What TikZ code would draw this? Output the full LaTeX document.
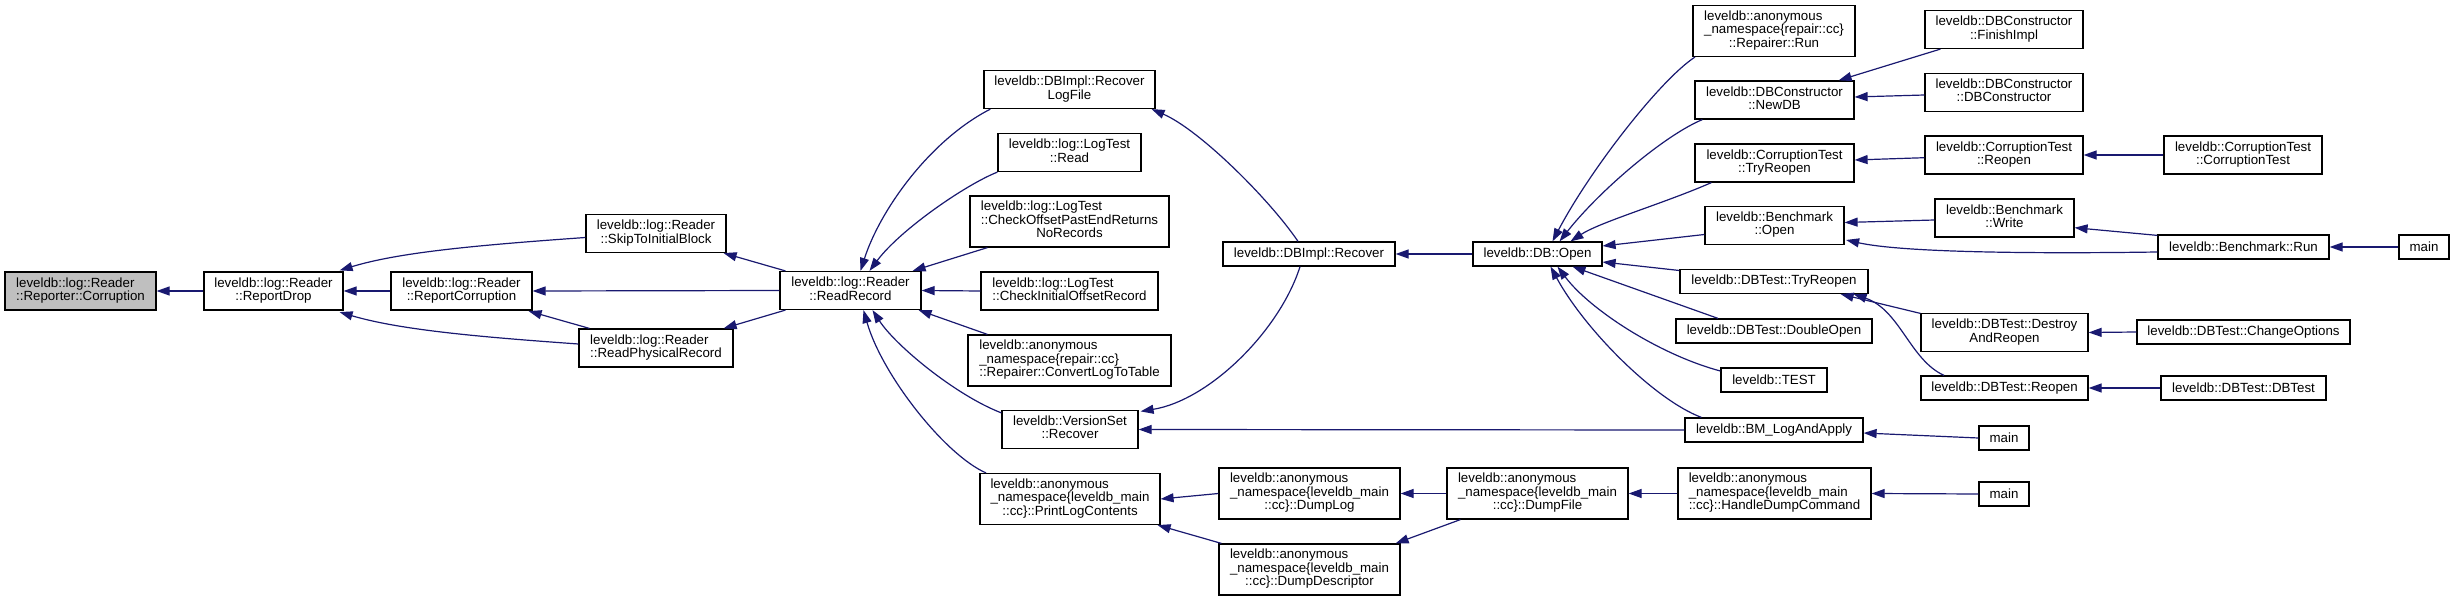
\documentclass[tikz,border=0pt]{standalone}
\usepackage{fontspec}
\setmainfont{Liberation Sans}
\usetikzlibrary{arrows.meta,calc}
\definecolor{edgecol}{HTML}{191970}
\definecolor{hilite}{HTML}{BFBFBF}
\newcommand{\dxTwo}[2]{\begin{tabular}{@{}l@{}}#1\\\multicolumn{1}{@{}c@{}}{#2}\end{tabular}}
\newcommand{\dxThree}[3]{\begin{tabular}{@{}l@{}}#1\\#2\\\multicolumn{1}{@{}c@{}}{#3}\end{tabular}}
\tikzset{
  box/.style={draw=black, line width=1.2pt, fill=white, inner sep=0pt, align=center,
    font=\fontsize{13.3pt}{13.3pt}\selectfont},
  hone/.style={minimum height=24pt},
  htwo/.style={minimum height=38pt},
  hthree/.style={minimum height=51pt},
  callarrow/.style={draw=edgecol, line width=1.2pt, -{Triangle[length=13pt,width=9pt]}},
}
\begin{document}
\begin{tikzpicture}[x=1pt,y=-1pt]
\useasboundingbox (0,0) rectangle (2454,601);
% rank 1-5
\node[box,htwo,minimum width=151pt,fill=hilite] (corr) at (80.5,291) {\dxTwo{leveldb::log::Reader}{::Reporter::Corruption}};
\node[box,htwo,minimum width=139pt] (rdrop) at (273.5,291) {\dxTwo{leveldb::log::Reader}{::ReportDrop}};
\node[box,htwo,minimum width=141pt] (rcorr) at (461.5,291) {\dxTwo{leveldb::log::Reader}{::ReportCorruption}};
\node[box,htwo,minimum width=140pt] (skip) at (656,233.5) {\dxTwo{leveldb::log::Reader}{::SkipToInitialBlock}};
\node[box,htwo,minimum width=154pt] (rphys) at (656,348) {\dxTwo{leveldb::log::Reader}{::ReadPhysicalRecord}};
\node[box,htwo,minimum width=141pt] (rrec) at (850.5,290.5) {\dxTwo{leveldb::log::Reader}{::ReadRecord}};
% rank 6
\node[box,htwo,minimum width=171pt] (rlf) at (1069.5,89.5) {\dxTwo{leveldb::DBImpl::Recover}{LogFile}};
\node[box,htwo,minimum width=143pt] (ltread) at (1069.5,152.5) {\dxTwo{leveldb::log::LogTest}{::Read}};
\node[box,hthree,minimum width=199pt] (ltoff) at (1069.5,221.5) {\dxThree{leveldb::log::LogTest}{::CheckOffsetPastEndReturns}{NoRecords}};
\node[box,htwo,minimum width=177pt] (ltinit) at (1069.5,291) {\dxTwo{leveldb::log::LogTest}{::CheckInitialOffsetRecord}};
\node[box,hthree,minimum width=203pt] (conv) at (1069.5,360.5) {\dxThree{leveldb::anonymous}{\_namespace\{repair::cc\}}{::Repairer::ConvertLogToTable}};
\node[box,htwo,minimum width=136pt] (vsrec) at (1070,429.5) {\dxTwo{leveldb::VersionSet}{::Recover}};
\node[box,hthree,minimum width=180pt] (plog) at (1070,499) {\dxThree{leveldb::anonymous}{\_namespace\{leveldb\_main}{::cc\}::PrintLogContents}};
% rank 7
\node[box,hone,minimum width=172pt] (dbrec) at (1309,254) {leveldb::DBImpl::Recover};
\node[box,hthree,minimum width=181pt] (dlog) at (1309.5,493.5) {\dxThree{leveldb::anonymous}{\_namespace\{leveldb\_main}{::cc\}::DumpLog}};
\node[box,hthree,minimum width=181pt] (ddesc) at (1309.5,569.5) {\dxThree{leveldb::anonymous}{\_namespace\{leveldb\_main}{::cc\}::DumpDescriptor}};
% rank 8
\node[box,hone,minimum width=129pt] (dbopen) at (1537.5,254) {leveldb::DB::Open};
\node[box,hthree,minimum width=181pt] (dfile) at (1537.5,493.5) {\dxThree{leveldb::anonymous}{\_namespace\{leveldb\_main}{::cc\}::DumpFile}};
% rank 9
\node[box,hthree,minimum width=162pt] (rrun) at (1774,31) {\dxThree{leveldb::anonymous}{\_namespace\{repair::cc\}}{::Repairer::Run}};
\node[box,htwo,minimum width=159pt] (newdb) at (1774.5,100) {\dxTwo{leveldb::DBConstructor}{::NewDB}};
\node[box,htwo,minimum width=159pt] (cttry) at (1774.5,163) {\dxTwo{leveldb::CorruptionTest}{::TryReopen}};
\node[box,htwo,minimum width=139pt] (bopen) at (1774.5,225.5) {\dxTwo{leveldb::Benchmark}{::Open}};
\node[box,hone,minimum width=188pt] (dttry) at (1774,281.5) {leveldb::DBTest::TryReopen};
\node[box,hone,minimum width=196pt] (dopen) at (1774,331) {leveldb::DBTest::DoubleOpen};
\node[box,hone,minimum width=106pt] (test) at (1774,380) {leveldb::TEST};
\node[box,hone,minimum width=178pt] (bmlog) at (1774,430) {leveldb::BM\_LogAndApply};
\node[box,hthree,minimum width=193pt] (hdump) at (1774.5,493.5) {\dxThree{leveldb::anonymous}{\_namespace\{leveldb\_main}{::cc\}::HandleDumpCommand}};
% rank 10
\node[box,htwo,minimum width=158pt] (finish) at (2004,29.5) {\dxTwo{leveldb::DBConstructor}{::FinishImpl}};
\node[box,htwo,minimum width=158pt] (dbcons) at (2004,92.5) {\dxTwo{leveldb::DBConstructor}{::DBConstructor}};
\node[box,htwo,minimum width=158pt] (ctreo) at (2004,155) {\dxTwo{leveldb::CorruptionTest}{::Reopen}};
\node[box,htwo,minimum width=139pt] (bwrite) at (2004.5,218) {\dxTwo{leveldb::Benchmark}{::Write}};
\node[box,htwo,minimum width=167pt] (destroy) at (2004.5,332.5) {\dxTwo{leveldb::DBTest::Destroy}{AndReopen}};
\node[box,hone,minimum width=167pt] (dtreo) at (2004.5,388) {leveldb::DBTest::Reopen};
\node[box,hone,minimum width=50pt] (mainbm) at (2004,438) {main};
\node[box,hone,minimum width=50pt] (maindump) at (2004,494) {main};
% rank 11
\node[box,htwo,minimum width=158pt] (ctct) at (2243,155) {\dxTwo{leveldb::CorruptionTest}{::CorruptionTest}};
\node[box,hone,minimum width=171pt] (brun) at (2243.5,247) {leveldb::Benchmark::Run};
\node[box,hone,minimum width=213pt] (chopt) at (2243.5,332) {leveldb::DBTest::ChangeOptions};
\node[box,hone,minimum width=165pt] (dtdt) at (2243.5,388) {leveldb::DBTest::DBTest};
% rank 12
\node[box,hone,minimum width=50pt] (main) at (2424,247) {main};

% edges
\draw[callarrow] (rdrop.west) -- (corr.east);
\draw[callarrow] (rcorr.west) -- (rdrop.east);
\draw[callarrow] ($(skip.west)+(0,4)$) .. controls (480,245) and (400,252) .. ($(rdrop.north east)+(-4,-1)$);
\draw[callarrow] ($(rphys.west)+(0,-4)$) .. controls (480,337) and (400,330) .. ($(rdrop.south east)+(-4,1.5)$);
\draw[callarrow] ($(rphys.north west)+(11,0)$) -- ($(rcorr.south east)+(-4,0.5)$);
\draw[callarrow] ($(rrec.north west)+(6,0)$) -- ($(skip.south east)+(-3,0)$);
\draw[callarrow] (rrec.west) -- (rcorr.east);
\draw[callarrow] ($(rrec.south west)+(6,0)$) -- ($(rphys.north east)+(-10,0)$);

\draw[callarrow] ($(rlf.south west)+(7,0)$) .. controls (930,140) and (880,210) .. ($(rrec.north)+(10,0)$);
\draw[callarrow] (ltread.south west) .. controls (965,185) and (900,230) .. ($(rrec.north)+(19,0)$);
\draw[callarrow] ($(ltoff.south west)+(18,0)$) -- ($(rrec.north east)+(-9,0)$);
\draw[callarrow] (ltinit.west) -- (rrec.east);
\draw[callarrow] ($(conv.north west)+(20,0)$) -- ($(rrec.south east)+(-3,0)$);
\draw[callarrow] ($(vsrec.north west)+(0,3)$) .. controls (955,395) and (895,345) .. ($(rrec.south)+(22,0)$);
\draw[callarrow] ($(plog.north west)+(6.6,0)$) .. controls (945,455) and (882,375) .. ($(rrec.south)+(13,0)$);

\draw[callarrow] ($(dbrec.north)+(-11,0)$) .. controls (1270,200) and (1200,130) .. ($(rlf.south east)+(-4,0)$);
\draw[callarrow] ($(dbrec.south)+(-9,0)$) .. controls (1280,330) and (1210,400) .. ($(vsrec.north east)+(2,1.5)$);
\draw[callarrow] (dbopen.west) -- (dbrec.east);
\draw[callarrow] (bmlog.west) -- (vsrec.east);
\draw[callarrow] (dlog.west) -- (plog.east);
\draw[callarrow] ($(ddesc.north west)+(3,0)$) -- ($(plog.south east)+(-3,0)$);
\draw[callarrow] (dfile.west) -- (dlog.east);
\draw[callarrow] ($(dfile.south west)+(14,0)$) -- ($(ddesc.north east)+(-5,0)$);
\draw[callarrow] (hdump.west) -- (dfile.east);
\draw[callarrow] (maindump.west) -- (hdump.east);
\draw[callarrow] (mainbm.west) -- ($(bmlog.east)+(0,3)$);

\draw[callarrow] ($(rrun.south west)+(2.5,0)$) .. controls (1660,80) and (1590,170) .. ($(dbopen.north)+(15,0)$);
\draw[callarrow] ($(newdb.south west)+(8,0)$) .. controls (1665,135) and (1600,190) .. ($(dbopen.north)+(22,0)$);
\draw[callarrow] ($(cttry.south west)+(17,0)$) .. controls (1665,203) and (1600,222) .. ($(dbopen.north)+(33,0)$);
\draw[callarrow] ($(bopen.west)+(0,9)$) -- ($(dbopen.east)+(0,-8)$);
\draw[callarrow] ($(dttry.west)+(0,-11)$) -- ($(dbopen.east)+(0,8)$);
\draw[callarrow] ($(dopen.north)+(-56,0)$) -- ($(dbopen.south)+(35,0)$);
\draw[callarrow] ($(test.west)+(0,-9)$) .. controls (1660,355) and (1590,310) .. ($(dbopen.south)+(20,0)$);
\draw[callarrow] ($(bmlog.north west)+(17,0)$) .. controls (1655,400) and (1585,330) .. ($(dbopen.south)+(13,0)$);

\draw[callarrow] ($(finish.south west)+(16,0)$) -- ($(newdb.north east)+(-16,0)$);
\draw[callarrow] ($(dbcons.west)+(0,2.5)$) -- ($(newdb.east)+(0,-3)$);
\draw[callarrow] ($(ctreo.west)+(0,2.7)$) -- ($(cttry.east)+(0,-3)$);
\draw[callarrow] (ctct.west) -- (ctreo.east);
\draw[callarrow] ($(bwrite.west)+(0,2)$) -- ($(bopen.east)+(0,-3)$);
\draw[callarrow] ($(brun.north west)+(0,1)$) -- ($(bwrite.east)+(0,9.7)$);
\draw[callarrow] ($(brun.west)+(0,5)$) .. controls (2020,254) and (1900,252) .. ($(bopen.east)+(1.5,14.5)$);
\draw[callarrow] (main.west) -- (brun.east);
\draw[callarrow] ($(destroy.north west)+(0,0.5)$) -- ($(dttry.south east)+(-28,0)$);
\draw[callarrow] ($(dtreo.north west)+(23.6,0)$) .. controls (1910,360) and (1900,310) .. ($(dttry.south east)+(-15,0)$);
\draw[callarrow] (chopt.west) -- (destroy.east);
\draw[callarrow] (dtdt.west) -- (dtreo.east);
\end{tikzpicture}
\end{document}
